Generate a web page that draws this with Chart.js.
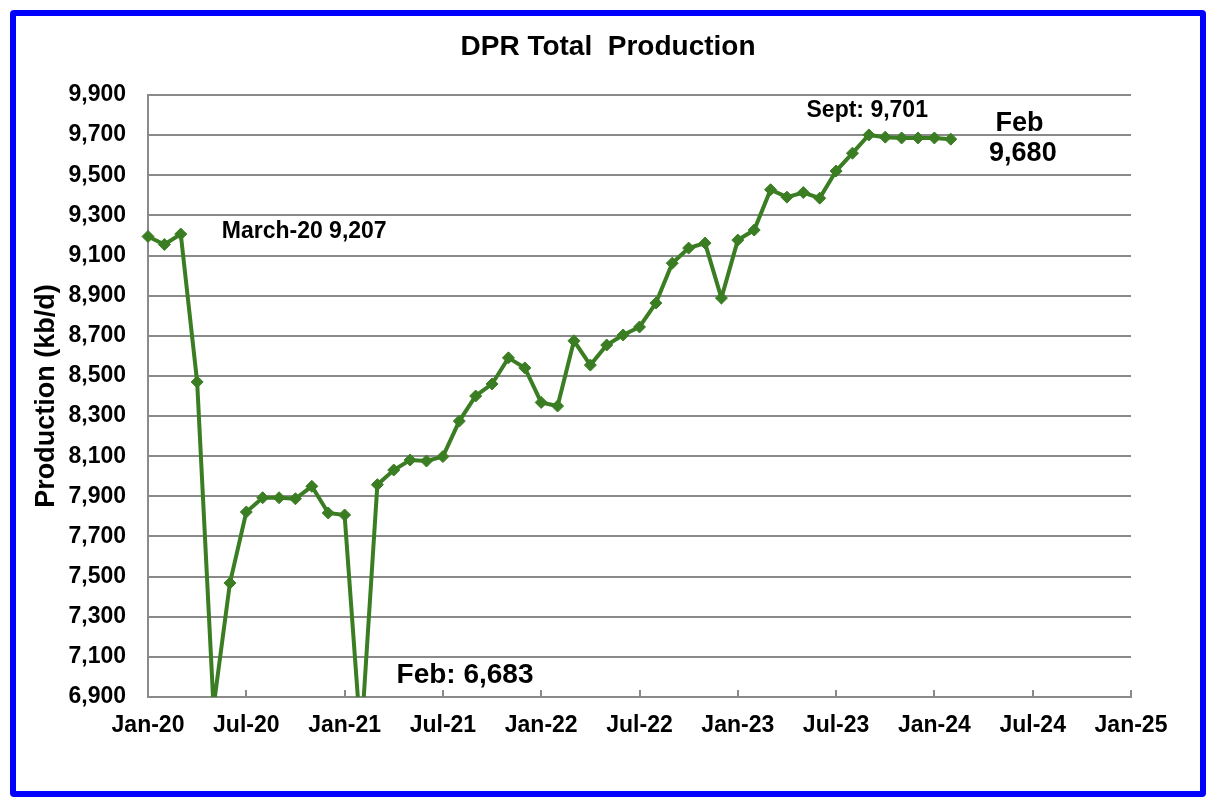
<!DOCTYPE html>
<html>
<head>
<meta charset="utf-8">
<title>DPR Total Production</title>
<script src="https://cdn.jsdelivr.net/npm/chart.js@4.4.1/dist/chart.umd.min.js"></script>
<style>
  html, body { margin: 0; padding: 0; background: #ffffff; }
  #frame {
    position: absolute; left: 10px; top: 10px;
    width: 1184px; height: 775px;
    border: 6px solid #0000ff; border-radius: 4px;
  }
</style>
</head>
<body>
<div id="frame"><canvas id="chartjs-0"></canvas></div>
<script>
// months shown on the line, Jan-20 .. Feb-24
var months = [
  "Jan-20","Feb-20","Mar-20","Apr-20","May-20","Jun-20","Jul-20","Aug-20","Sep-20","Oct-20","Nov-20","Dec-20",
  "Jan-21","Feb-21","Mar-21","Apr-21","May-21","Jun-21","Jul-21","Aug-21","Sep-21","Oct-21","Nov-21","Dec-21",
  "Jan-22","Feb-22","Mar-22","Apr-22","May-22","Jun-22","Jul-22","Aug-22","Sep-22","Oct-22","Nov-22","Dec-22",
  "Jan-23","Feb-23","Mar-23","Apr-23","May-23","Jun-23","Jul-23","Aug-23","Sep-23","Oct-23","Nov-23","Dec-23",
  "Jan-24","Feb-24"
];

// DPR total production, kb/d
var production = [
  9195, 9155, 9207, 8470, 6850, 7468, 7822, 7893, 7893, 7888, 7950, 7817,
  7807, 6683, 7958, 8031, 8081, 8076, 8098, 8275, 8400, 8460, 8590, 8540,
  8368, 8350, 8675, 8554, 8654, 8704, 8744, 8863, 9062, 9137, 9162, 8888,
  9177, 9227, 9428, 9391, 9414, 9386, 9521, 9610, 9701, 9690, 9686, 9686,
  9686, 9680
];

// x axis labels, one every 6 months
var tickLabels = ["Jan-20","Jul-20","Jan-21","Jul-21","Jan-22","Jul-22","Jan-23","Jul-23","Jan-24","Jul-24","Jan-25"];

// text notes on the chart
var noteText = ["March-20 9,207", "Feb: 6,683", "Sept: 9,701", "Feb", "9,680"];

var FONT = "'Liberation Sans', Arial, Helvetica, sans-serif";
var GREEN = "#3a7d22";
var GRID = "#8a8a8a";

/* build the points from the arrays */
var points = [];
for (var i = 0; i < production.length; i++) {
    points.push({ x: i, y: production[i] });
}

/* notes: [text index, month index, value, font size, align] */
var notes = [
    [0, 4.5, 9217, 23, "left"],
    [1, 19.35, 7010, 28, "center"],
    [2, 43.9, 9820, 23, "center"],
    [3, 53.2, 9760, 27, "center"],
    [4, 53.4, 9610, 27, "center"]
];

var extras = {
    id: "extras",
    beforeDatasetsDraw: function (chart) {
        // small tick marks standing up from the x axis
        var ctx = chart.ctx;
        var xs = chart.scales.x;
        var bottom = chart.chartArea.bottom;
        ctx.save();
        ctx.strokeStyle = GRID;
        ctx.lineWidth = 2;
        for (var t = 0; t < tickLabels.length; t++) {
            var px = Math.round(xs.getPixelForValue(t * 6));
            ctx.beginPath();
            ctx.moveTo(px, bottom);
            ctx.lineTo(px, bottom - 7);
            ctx.stroke();
        }
        ctx.restore();
    },
    afterDraw: function (chart) {
        var ctx = chart.ctx;
        var xs = chart.scales.x;
        var ys = chart.scales.y;
        ctx.save();
        ctx.fillStyle = "#000000";
        ctx.textBaseline = "middle";
        // title
        ctx.font = "bold 28px " + FONT;
        ctx.textAlign = "center";
        ctx.fillText("DPR Total  Production", chart.width / 2, 31);
        // notes
        for (var n = 0; n < notes.length; n++) {
            var nt = notes[n];
            ctx.font = "bold " + nt[3] + "px " + FONT;
            ctx.textAlign = nt[4];
            ctx.fillText(noteText[nt[0]], xs.getPixelForValue(nt[1]), ys.getPixelForValue(nt[2]));
        }
        ctx.restore();
    }
};

var ctx = document.getElementById("chartjs-0");

var myChart = new Chart(ctx, {
    type: "line",
    data: {
        datasets: [{
            label: "DPR Total Production",
            data: points,
            borderColor: GREEN,
            backgroundColor: GREEN,
            borderWidth: 4,
            pointStyle: "rectRot",
            pointRadius: 6,
            pointBorderWidth: 1,
            pointBackgroundColor: GREEN,
            pointBorderColor: GREEN,
            tension: 0,
            fill: false,
            clip: { left: 8, top: 8, right: 8, bottom: 0 }
        }]
    },
    options: {
        responsive: true,
        maintainAspectRatio: false,
        animation: false,
        layout: { padding: { top: 79, right: 69, left: 0, bottom: 0 } },
        plugins: {
            legend: { display: false },
            title: { display: false },
            tooltip: { enabled: false }
        },
        scales: {
            x: {
                type: "linear",
                min: 0,
                max: 60,
                grid: { display: false },
                border: { display: true, color: GRID, width: 2 },
                ticks: {
                    stepSize: 6,
                    autoSkip: false,
                    maxRotation: 0,
                    padding: 7,
                    color: "#000000",
                    font: { family: FONT, size: 23, weight: "bold" },
                    callback: function (v) { return tickLabels[v / 6]; }
                },
                afterFit: function (scale) { scale.height = 94; }
            },
            y: {
                min: 6900,
                max: 9900,
                grid: { color: GRID, lineWidth: 2, drawTicks: false },
                border: { display: true, color: GRID, width: 2 },
                ticks: {
                    stepSize: 200,
                    padding: 22,
                    color: "#000000",
                    font: { family: FONT, size: 23, weight: "bold" },
                    callback: function (v) { return v.toLocaleString("en-US"); }
                },
                title: {
                    display: true,
                    text: "Production (kb/d)",
                    color: "#000000",
                    font: { family: FONT, size: 27, weight: "bold" },
                    padding: { top: 14, bottom: 0 }
                },
                afterFit: function (scale) { scale.width = 132; }
            }
        }
    },
    plugins: [extras]
});
</script>
</body>
</html>
